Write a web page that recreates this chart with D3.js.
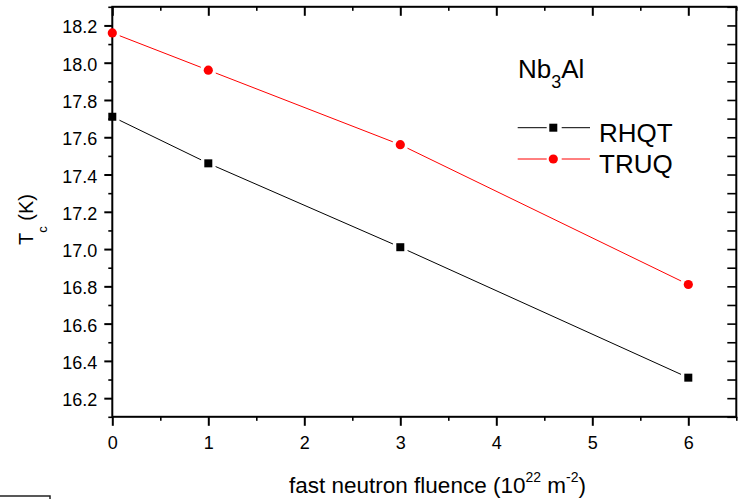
<!DOCTYPE html>
<html><head><meta charset="utf-8">
<script src="https://cdn.jsdelivr.net/npm/d3@7/dist/d3.min.js"></script>
<style>
html,body{margin:0;padding:0;background:#fff;}
svg{display:block;font-family:"Liberation Sans",Arial,sans-serif;}
</style></head>
<body>
<svg id="chart" width="740" height="499"></svg>
<script>
// ---- data ----
const fluence = [0, 1, 3, 6];
const rhqt = [17.71, 17.46, 17.01, 16.31];
const truq = [18.16, 17.96, 17.56, 16.81];
const seriesNames = ["RHQT", "TRUQ"];
const xMajorTicks = [0, 1, 2, 3, 4, 5, 6];
const xMinorTicks = [0.5, 1.5, 2.5, 3.5, 4.5, 5.5, 6.5];
const yMajorTicks = [16.2, 16.4, 16.6, 16.8, 17.0, 17.2, 17.4, 17.6, 17.8, 18.0, 18.2];
const yMinorTicks = [16.1, 16.3, 16.5, 16.7, 16.9, 17.1, 17.3, 17.5, 17.7, 17.9, 18.1, 18.3];

const svg = d3.select("#chart");
const L = 112.3, R = 736.3, T = 6.8, B = 416.8;
const x = d3.scaleLinear().domain([0, 6.5]).range([L, R]);
const y = d3.scaleLinear().domain([16.1, 18.3]).range([B, T]);
const FONT = "Liberation Sans, Arial, sans-serif";

function styleAxis(g, w) {
  g.select(".domain").remove();
  g.selectAll(".tick line").attr("stroke", "#000").attr("stroke-width", w);
}

// left axis
const gl = svg.append("g").attr("transform", `translate(${L},0)`)
  .call(d3.axisLeft(y).tickValues(yMajorTicks).tickSize(8).tickPadding(7).tickFormat(d3.format(".1f")));
styleAxis(gl, 2);
gl.attr("font-size", 18).attr("font-family", FONT);
gl.selectAll("text").attr("fill", "#000").attr("dy", "0.42em");
const glm = svg.append("g").attr("transform", `translate(${L},0)`)
  .call(d3.axisLeft(y).tickValues(yMinorTicks).tickSize(4).tickFormat(""));
styleAxis(glm, 1.6);

// right axis (inward ticks)
const gr = svg.append("g").attr("transform", `translate(${R},0)`)
  .call(d3.axisLeft(y).tickValues(yMajorTicks.concat(yMinorTicks)).tickSize(9).tickFormat(""));
styleAxis(gr, 1.6);

// bottom axis
const gb = svg.append("g").attr("transform", `translate(0,${B})`)
  .call(d3.axisBottom(x).tickValues(xMajorTicks).tickSize(9).tickPadding(10).tickFormat(d3.format("d")));
styleAxis(gb, 2);
gb.attr("font-size", 18).attr("font-family", FONT);
gb.selectAll("text").attr("fill", "#000");
const gbm = svg.append("g").attr("transform", `translate(0,${B})`)
  .call(d3.axisBottom(x).tickValues(xMinorTicks).tickSize(4).tickFormat(""));
styleAxis(gbm, 1.6);

// top axis (inward ticks)
const gt = svg.append("g").attr("transform", `translate(0,${T})`)
  .call(d3.axisBottom(x).tickValues(xMajorTicks).tickSize(9).tickFormat(""));
styleAxis(gt, 2);
const gtm = svg.append("g").attr("transform", `translate(0,${T})`)
  .call(d3.axisBottom(x).tickValues(xMinorTicks).tickSize(4).tickFormat(""));
styleAxis(gtm, 1.6);

// frame
svg.append("rect").attr("x", L).attr("y", T).attr("width", R - L).attr("height", B - T)
  .attr("fill", "none").attr("stroke", "#000").attr("stroke-width", 2);

// data lines with gaps near markers
const gap = 8;
function drawSeries(vals, color, marker) {
  const pts = fluence.map((f, i) => [x(f), y(vals[i])]);
  for (let i = 0; i < pts.length - 1; i++) {
    const [x1, y1] = pts[i], [x2, y2] = pts[i + 1];
    const dx = x2 - x1, dy = y2 - y1, len = Math.hypot(dx, dy);
    const ux = dx / len, uy = dy / len;
    svg.append("line")
      .attr("x1", x1 + ux * gap).attr("y1", y1 + uy * gap)
      .attr("x2", x2 - ux * gap).attr("y2", y2 - uy * gap)
      .attr("stroke", color).attr("stroke-width", 1);
  }
  pts.forEach(([px, py]) => {
    if (marker === "square") {
      svg.append("rect").attr("x", px - 4).attr("y", py - 4).attr("width", 8).attr("height", 8).attr("fill", color);
    } else {
      svg.append("circle").attr("cx", px).attr("cy", py).attr("r", 4.6).attr("fill", color);
    }
  });
}
drawSeries(rhqt, "#000", "square");
drawSeries(truq, "#ff0000", "circle");

// legend
const title = svg.append("text").attr("x", 518).attr("y", 78.3).attr("font-size", 26).attr("fill", "#000");
title.append("tspan").text("Nb");
title.append("tspan").attr("font-size", 18).attr("dy", 10).text("3");
title.append("tspan").attr("dy", -10).text("Al");

const legendItems = [
  {name: seriesNames[0], color: "#000", marker: "square", ly: 127.7, ty: 141.7},
  {name: seriesNames[1], color: "#ff0000", marker: "circle", ly: 159, ty: 173.3}
];
legendItems.forEach(it => {
  svg.append("line").attr("x1", 517.7).attr("x2", 546.7).attr("y1", it.ly).attr("y2", it.ly)
    .attr("stroke", it.color).attr("stroke-width", 1);
  svg.append("line").attr("x1", 561.7).attr("x2", 590).attr("y1", it.ly).attr("y2", it.ly)
    .attr("stroke", it.color).attr("stroke-width", 1);
  if (it.marker === "square") {
    svg.append("rect").attr("x", 553.3 - 4).attr("y", it.ly - 4).attr("width", 8).attr("height", 8).attr("fill", it.color);
  } else {
    svg.append("circle").attr("cx", 553.3).attr("cy", it.ly).attr("r", 4.6).attr("fill", it.color);
  }
  svg.append("text").attr("x", 599).attr("y", it.ty).attr("font-size", 26).attr("fill", "#000").text(it.name);
});

// x axis title
const xt = svg.append("text").attr("x", 437.5).attr("y", 493).attr("text-anchor", "middle")
  .attr("font-size", 22.5).attr("fill", "#000");
xt.append("tspan").text("fast neutron fluence (10");
xt.append("tspan").attr("font-size", 14).attr("dy", -11).text("22");
xt.append("tspan").attr("dy", 11).text(" m");
xt.append("tspan").attr("font-size", 14).attr("dy", -11).text("-2");
xt.append("tspan").attr("dy", 11).text(")");

// y axis title
const yt = svg.append("text").attr("transform", "translate(33,219.5) rotate(-90)")
  .attr("text-anchor", "middle").attr("font-size", 20).attr("fill", "#000");
yt.append("tspan").text("T");
yt.append("tspan").attr("font-size", 13).attr("dy", 14).text("c");
yt.append("tspan").attr("dy", -14).text(" (K)");

// stray box fragment at bottom-left
svg.append("rect").attr("x", -2).attr("y", 496).attr("width", 52).attr("height", 12)
  .attr("fill", "none").attr("stroke", "#222").attr("stroke-width", 1.5);
</script>
</body></html>
